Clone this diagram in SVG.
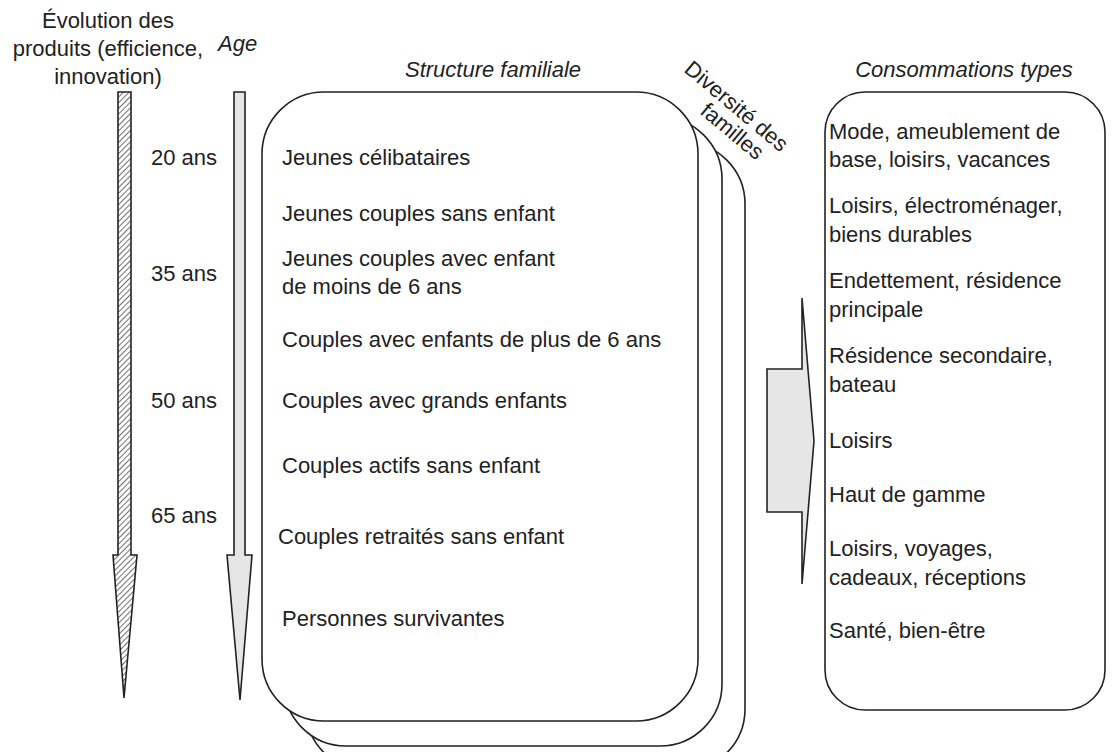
<svg xmlns="http://www.w3.org/2000/svg" width="1114" height="752" viewBox="0 0 1114 752">
<style>
text{font-family:"Liberation Sans",Arial,sans-serif;font-size:22px;fill:#222}
.it{font-style:italic}
.box{fill:#fff;stroke:#222;stroke-width:1.6}
.arr{stroke:#222;stroke-width:1.6;stroke-linejoin:miter}
</style>
<defs>
<pattern id="hatch" patternUnits="userSpaceOnUse" width="4" height="4" patternTransform="rotate(45)">
<rect width="4" height="4" fill="#fff"/>
<line x1="0" y1="0" x2="0" y2="4" stroke="#333" stroke-width="1.4"/>
</pattern>
</defs>
<rect width="1114" height="752" fill="#fff"/>
<g id="connectors">
<polygon id="arrow-produits" class="arr" fill="url(#hatch)" points="118,92 131,92 131,555 137,555 124,698 113,555 118,555"/>
<polygon id="arrow-age" class="arr" fill="#e6e6e6" points="234,92 245,92 245,555 252,555 240,700 227,555 234,555"/>
<polygon id="arrow-right" class="arr" fill="#e6e6e6" points="767,369 802,369 802,298 814,441 802,584 802,512 767,512"/>
</g>
<g id="titles">
<text x="108" y="28" text-anchor="middle">Évolution des</text>
<text x="108" y="56" text-anchor="middle">produits (efficience,</text>
<text x="108" y="84" text-anchor="middle">innovation)</text>
<text class="it" x="218" y="51">Age</text>
<text class="it" x="493" y="77" text-anchor="middle">Structure familiale</text>
<text class="it" x="964" y="77" text-anchor="middle">Consommations types</text>
</g>
<g id="ages">
<text x="151" y="165">20 ans</text>
<text x="151" y="281">35 ans</text>
<text x="151" y="408">50 ans</text>
<text x="151" y="523">65 ans</text>
</g>
<g id="familles-stack">
<rect class="box" x="306" y="142" width="439" height="629" rx="62"/>
<rect class="box" x="284" y="117" width="438" height="629" rx="62"/>
<text transform="translate(683,71) rotate(40)">Diversité des</text>
<text transform="translate(699,113) rotate(40)">familles</text>
</g>
<g id="structure">
<rect class="box" x="262" y="92" width="436" height="629" rx="62"/>
<text x="282" y="165">Jeunes célibataires</text>
<text x="282" y="221">Jeunes couples sans enfant</text>
<text x="282" y="266">Jeunes couples avec enfant</text>
<text x="282" y="294">de moins de 6 ans</text>
<text x="282" y="347">Couples avec enfants de plus de 6 ans</text>
<text x="282" y="408">Couples avec grands enfants</text>
<text x="282" y="473">Couples actifs sans enfant</text>
<text x="278" y="544">Couples retraités sans enfant</text>
<text x="282" y="626">Personnes survivantes</text>
</g>
<g id="consommations">
<rect class="box" x="825" y="92" width="280" height="618" rx="40"/>
<text x="829" y="139">Mode, ameublement de</text>
<text x="829" y="167">base, loisirs, vacances</text>
<text x="829" y="213">Loisirs, électroménager,</text>
<text x="829" y="242">biens durables</text>
<text x="829" y="288">Endettement, résidence</text>
<text x="829" y="317">principale</text>
<text x="829" y="363">Résidence secondaire,</text>
<text x="829" y="392">bateau</text>
<text x="829" y="448">Loisirs</text>
<text x="829" y="502">Haut de gamme</text>
<text x="829" y="556">Loisirs, voyages,</text>
<text x="829" y="585">cadeaux, réceptions</text>
<text x="829" y="638">Santé, bien-être</text>
</g>
</svg>
